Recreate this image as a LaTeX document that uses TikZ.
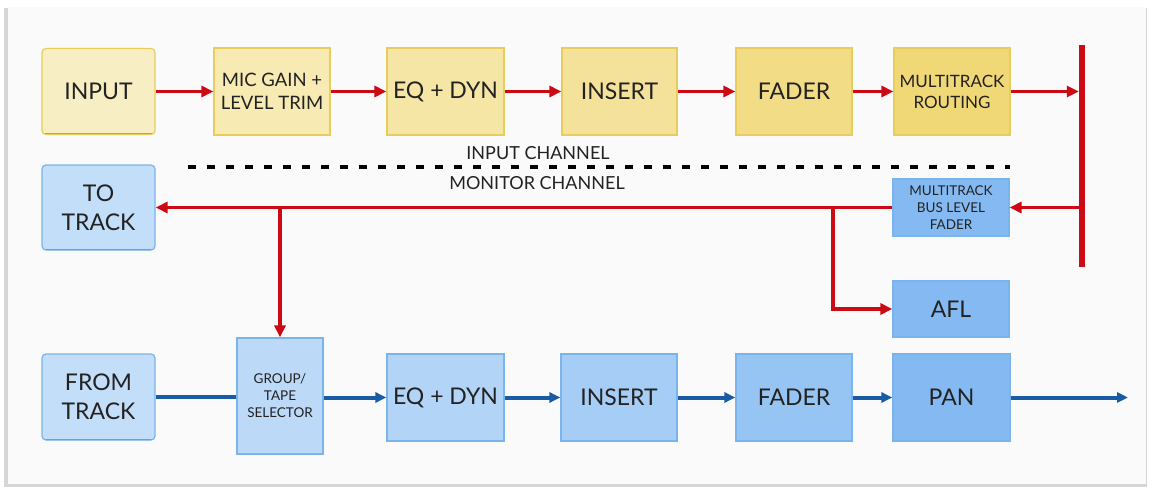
\documentclass[tikz,border=0pt]{standalone}
\usepackage{fontspec}
\setmainfont{Lato}
\usetikzlibrary{arrows.meta}
\definecolor{txt}{HTML}{222222}
\definecolor{panel}{HTML}{FAFAFA}
\definecolor{shadowc}{HTML}{D6D6D6}
\definecolor{rd}{HTML}{CC0A14}
\definecolor{blu}{HTML}{1A5BA6}
\definecolor{ybord}{HTML}{E8CD5C}
\definecolor{ybot}{HTML}{BFA035}
\definecolor{bbord}{HTML}{7AB4EC}
\definecolor{bbot}{HTML}{3A80CC}
\definecolor{yA}{HTML}{F8EEC4}
\definecolor{yB}{HTML}{F7EAB2}
\definecolor{yC}{HTML}{F6E6A6}
\definecolor{yD}{HTML}{F4E29A}
\definecolor{yE}{HTML}{F2DC86}
\definecolor{yF}{HTML}{F1D877}
\definecolor{bA}{HTML}{C3DEF8}
\definecolor{bB}{HTML}{BCDAF7}
\definecolor{bC}{HTML}{B2D4F6}
\definecolor{bD}{HTML}{A5CDF5}
\definecolor{bE}{HTML}{97C5F3}
\definecolor{bF}{HTML}{84BAF1}
\newcommand\FntBig{\fontsize{23}{29}\selectfont}
\newcommand\FntMid{\fontsize{18.5}{23}\selectfont}
\newcommand\FntMT{\fontsize{17}{21}\selectfont}
\newcommand\FntSm{\fontsize{13.5}{17}\selectfont}
\newcommand\FntLab{\fontsize{18}{22}\selectfont}
\tikzset{
  box/.style={draw, line width=1.2pt, inner sep=0pt, align=center, text=txt, font=\FntBig},
  ybox/.style={box, draw=ybord, path picture={\draw[line width=3pt, ybot] (path picture bounding box.south west) -- (path picture bounding box.south east);}},
  bbox/.style={box, draw=bbord, path picture={\draw[line width=3pt, bbot] (path picture bounding box.south west) -- (path picture bounding box.south east);}},
  redline/.style={draw=rd, line width=3.8pt},
  redarrow/.style={redline, -{Triangle[length=12pt,width=11pt]}},
  blueline/.style={draw=blu, line width=4pt},
  bluearrow/.style={blueline, -{Triangle[length=11pt,width=10pt]}},
  chanlabel/.style={text=txt, font=\FntLab, inner sep=0pt},
  divider/.style={draw=black, line width=3.5pt, dash pattern=on 8pt off 11pt}
}
\begin{document}
\begin{tikzpicture}[x=1pt, y=-1pt]
\useasboundingbox (0,0) rectangle (1152,487);
\fill[white] (0,0) rectangle (1152,487);
\fill[shadowc] (4,8) rectangle (1147,487);
\fill[panel] (8,7) rectangle (1146,484);

% input channel (top row)
\node[ybox, fill=yA, rounded corners=4pt, minimum width=113pt, minimum height=86pt] (input) at (98.5,91.5) {INPUT};
\node[ybox, fill=yB, minimum width=116pt, minimum height=87pt, font=\FntMid] (mic) at (272,91.5) {MIC GAIN +\\LEVEL TRIM};
\node[ybox, fill=yC, minimum width=117pt, minimum height=87pt] (eqa) at (445.5,91.5) {EQ + DYN};
\node[ybox, fill=yD, minimum width=115pt, minimum height=87pt] (insa) at (619.5,91.5) {INSERT};
\node[ybox, fill=yE, minimum width=116pt, minimum height=87pt] (fada) at (794,91.5) {FADER};
\node[ybox, fill=yF, minimum width=116pt, minimum height=87pt, font=\FntMT] (mtr) at (952,91.5) {MULTITRACK\\ROUTING};

% bus bar
\node[fill=rd, inner sep=0pt, minimum width=6pt, minimum height=222pt] (bar) at (1082,156) {};

% monitor side
\node[bbox, fill=bA, rounded corners=4pt, minimum width=113pt, minimum height=85pt] (totrack) at (98.5,207.5) {TO\\TRACK};
\node[bbox, fill=bF, minimum width=116pt, minimum height=57pt, font=\FntSm] (mblf) at (951,207.5) {MULTITRACK\\BUS LEVEL\\FADER};
\node[bbox, fill=bF, minimum width=116pt, minimum height=56pt] (afl) at (951,309) {AFL};

% bottom row
\node[bbox, fill=bA, rounded corners=4pt, minimum width=113pt, minimum height=86pt] (fromtrack) at (98.5,397) {FROM\\TRACK};
\node[bbox, fill=bB, minimum width=86pt, minimum height=116pt, font=\FntSm] (group) at (280,396) {GROUP/\\TAPE\\SELECTOR};
\node[bbox, fill=bC, minimum width=117pt, minimum height=87pt] (eqb) at (445.5,397.5) {EQ + DYN};
\node[bbox, fill=bD, minimum width=116pt, minimum height=87pt] (insb) at (619,397.5) {INSERT};
\node[bbox, fill=bE, minimum width=116pt, minimum height=87pt] (fadb) at (794,397.5) {FADER};
\node[bbox, fill=bF, minimum width=117pt, minimum height=87pt] (pan) at (951.5,397.5) {PAN};
\coordinate (out) at (1128,397.5);

% divider and labels
\coordinate (dl) at (188,167);
\coordinate (dr) at (1010,167);
\draw[divider] (dl) -- (dr);
\node[chanlabel] (lin) at (538,153) {INPUT CHANNEL};
\node[chanlabel] (lmon) at (537,183) {MONITOR CHANNEL};

% top row arrows
\draw[redarrow] (input.east) -- (mic.west);
\draw[redarrow] (mic.east) -- (eqa.west);
\draw[redarrow] (eqa.east) -- (insa.west);
\draw[redarrow] (insa.east) -- (fada.west);
\draw[redarrow] (fada.east) -- (mtr.west);
\draw[redarrow] (mtr.east) -- (mtr.east -| bar.west);

% monitor path
\draw[redarrow] (bar.west |- mblf.east) -- (mblf.east);
\draw[redarrow] (mblf.west) -- (totrack.east);
\coordinate (j1) at (833,207.5);
\draw[redarrow] (j1) |- (afl.west);
\draw[redarrow] (group.north |- totrack.east) -- (group.north);

% bottom row arrows
\draw[blueline] (fromtrack.east) -- (fromtrack.east -| group.west);
\draw[bluearrow] (group.east |- eqb.west) -- (eqb.west);
\draw[bluearrow] (eqb.east) -- (insb.west);
\draw[bluearrow] (insb.east) -- (fadb.west);
\draw[bluearrow] (fadb.east) -- (pan.west);
\draw[bluearrow] (pan.east) -- (out);
\end{tikzpicture}
\end{document}
